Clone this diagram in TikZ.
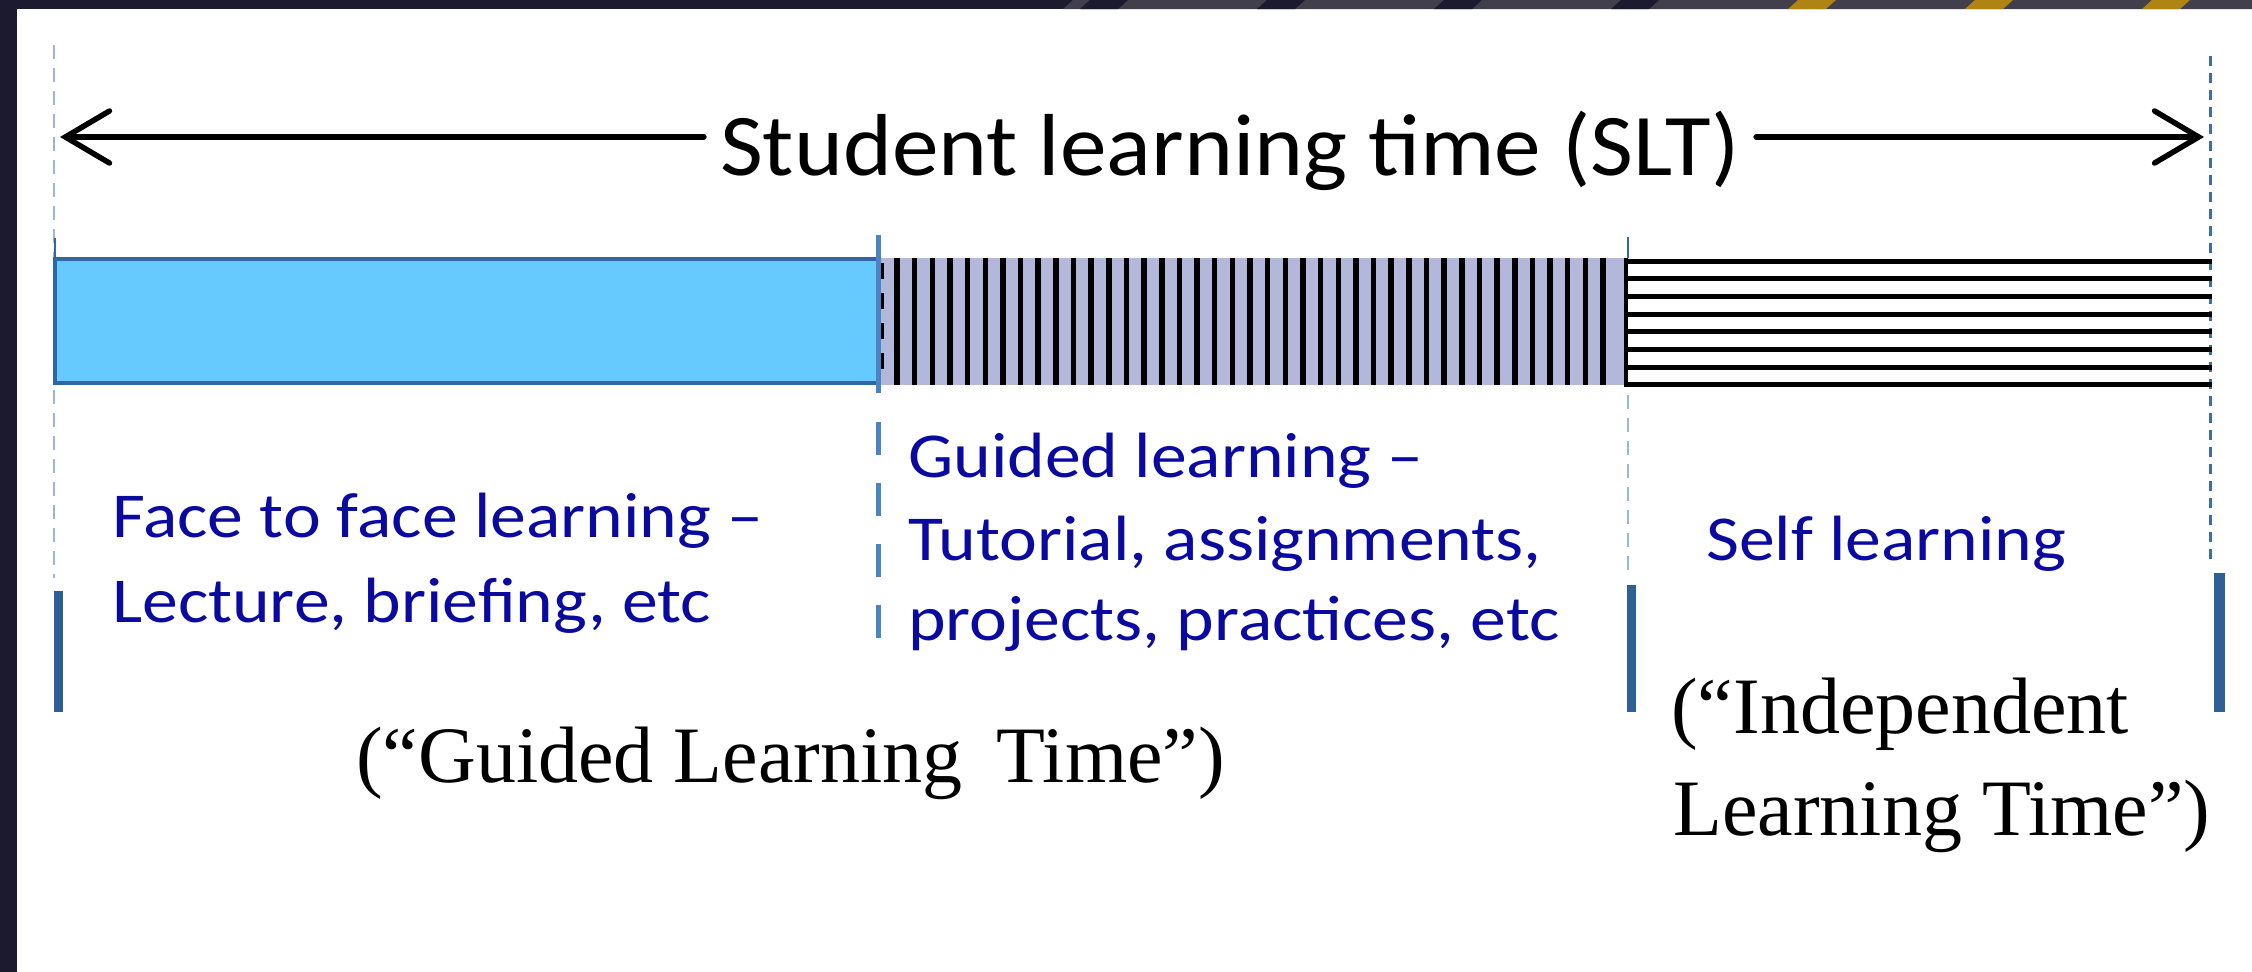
\documentclass[tikz,border=0pt]{standalone}
\usepackage{fontspec}
\usetikzlibrary{arrows.meta}
\newfontfamily\labfont[FakeStretch=1.12]{Carlito}
\newfontfamily\titfont[FakeStretch=1.06]{Carlito}
\newfontfamily\serfont{Liberation Serif}
\definecolor{navy}{HTML}{1C1A2E}
\definecolor{bandgray}{HTML}{413F4B}
\definecolor{gold}{HTML}{B08315}
\definecolor{skyfill}{HTML}{66CAFF}
\definecolor{skyedge}{HTML}{2F679E}
\definecolor{lavender}{HTML}{B3B8DA}
\definecolor{labblue}{HTML}{0A0AA0}
\definecolor{guideblue}{HTML}{9AB6D8}
\definecolor{markblue}{HTML}{2E6096}
\definecolor{midblue}{HTML}{4A84C2}
\definecolor{rightguide}{HTML}{3C6EA8}
\tikzset{
  lab/.style={font=\labfont\fontsize{64}{85}\selectfont, text=labblue, anchor=base west, inner sep=0pt},
  ser/.style={font=\serfont\fontsize{80}{100}\selectfont, text=black, anchor=base west, inner sep=0pt},
  guide/.style={guideblue, line width=2pt, dash pattern=on 14pt off 9pt},
  marker/.style={markblue, line width=9pt},
  hatchline/.style={black, line width=5.5pt},
  spanarrow/.style={black, line width=5.5pt, line cap=round, -{Straight Barb[length=44pt,width=52pt,line cap=round]}}
}
\begin{document}
\begin{tikzpicture}[x=1pt,y=-1pt]
\useasboundingbox (0,0) rectangle (2252,972);
\fill[white] (0,0) rectangle (2252,972);
% frame band
\fill[navy] (0,0) rectangle (2252,9);
\fill[navy] (0,0) rectangle (17,972);
\fill[bandgray] (1063,9) -- (1073,0) -- (2252,0) -- (2252,9) -- cycle;
\foreach \k in {0,1,2,3}
  \fill[navy] ({1080+177*\k},9) -- ({1090+177*\k},0) -- ({1128+177*\k},0) -- ({1118+177*\k},9) -- cycle;
\foreach \k in {4,5,6}
  \fill[gold] ({1080+177*\k},9) -- ({1090+177*\k},0) -- ({1128+177*\k},0) -- ({1118+177*\k},9) -- cycle;
% guide lines
\draw[guide] (54,45) -- (54,578);
\draw[skyedge, line width=2.5pt] (55,238) -- (55,258);
\draw[skyedge, line width=2pt] (1628,237) -- (1628,258);
\draw[guide] (1628,395) -- (1628,570);
\draw[rightguide, line width=3pt, dash pattern=on 10pt off 7pt] (2210,56) -- (2210,561);
% title and span arrows
\node[font=\titfont\fontsize{88}{100}\selectfont, anchor=base, inner xsep=16pt, inner ysep=0pt] (title) at (1230,175) {Student learning time (SLT)};
\coordinate (arrL) at (60,137);
\coordinate (arrR) at (2204,137);
\draw[spanarrow] (title.west |- arrL) -- (arrL);
\draw[spanarrow] (title.east |- arrR) -- (arrR);
% bar: guided part (vertical hatch)
\fill[lavender] (878,258) rectangle (1626,385);
\foreach \i in {0,...,40}
  \draw[hatchline] ({897+17.65*\i},258) -- ({897+17.65*\i},385);
% self part (horizontal hatch)
\foreach \i in {0,...,7}
  \draw[black, line width=5pt] (1626,{261+17.7*\i}) -- (2212,{261+17.7*\i});
\draw[black, line width=4pt] (1626,258) -- (1626,387);
% face to face part
\filldraw[fill=skyfill, draw=skyedge, line width=3.5pt] (55,259) rectangle (878,383);
\draw[midblue, line width=5pt] (878,235) -- (878,393);
\draw[black, line width=3pt, dash pattern=on 16pt off 14pt] (882,263) -- (882,380);
\draw[midblue, line width=5pt, dash pattern=on 33pt off 28pt] (878,422) -- (878,640);
% markers
\draw[marker] (58,591) -- (58,712);
\draw[marker] (1631,585) -- (1631,712);
\draw[markblue, line width=11pt] (2219,573) -- (2219,712);
% labels
\node[lab] (ftf1) at (112,537) {Face to face learning –};
\node[lab] (ftf2) at (112,622) {Lecture, briefing, etc};
\node[lab] (gl1) at (908,477) {Guided learning –};
\node[lab] (gl2) at (908,560) {Tutorial, assignments,};
\node[lab] (gl3) at (908,640) {projects, practices, etc};
\node[lab] (sl) at (1706,560) {Self learning};
\node[ser] (glt) at (356,782) {(“Guided Learning\hspace{14pt} Time”)};
\node[ser] (ilt1) at (1671,733) {(“Independent};
\node[ser] (ilt2) at (1673,835) {Learning Time”)};
\end{tikzpicture}
\end{document}
